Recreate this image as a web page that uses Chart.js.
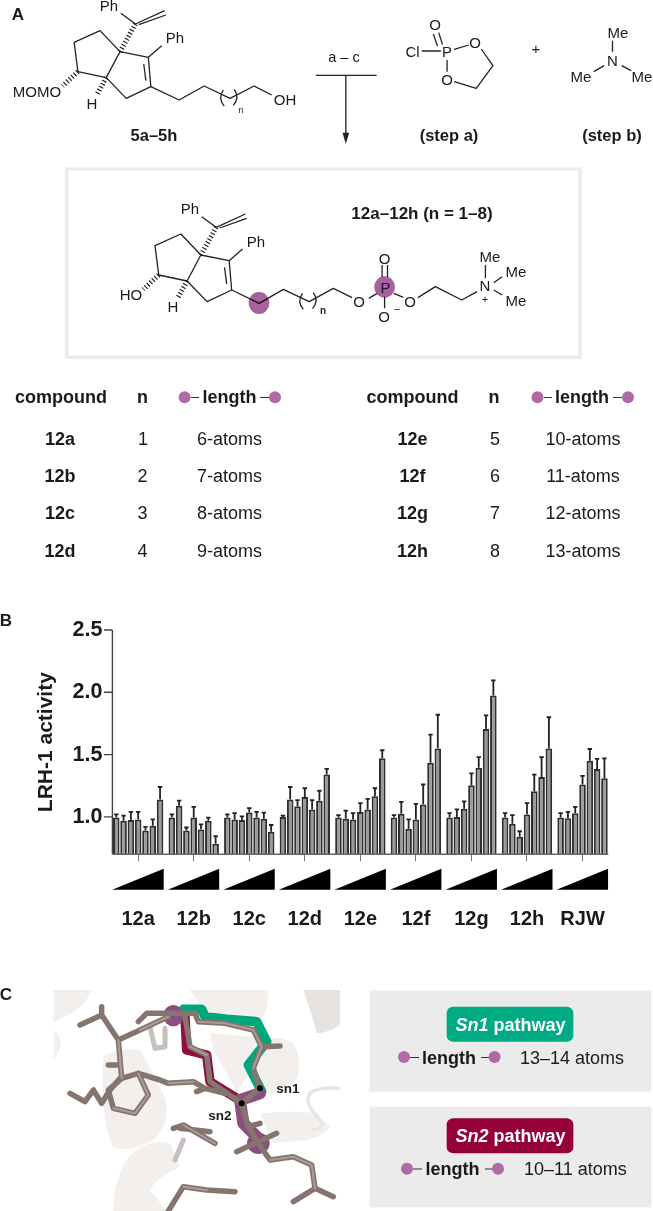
<!DOCTYPE html>
<html>
<head>
<meta charset="utf-8">
<title>LRH-1 activity</title>
<script src="https://cdn.jsdelivr.net/npm/chart.js@4.4.3/dist/chart.umd.js"></script>
<style>
  html, body { margin: 0; padding: 0; background: #fff; }
  #page { position: relative; width: 653px; height: 1211px; overflow: hidden; font-family: "Liberation Sans", Arial, sans-serif; }
  #art { position: absolute; left: 0; top: 0; }
  #chart { position: absolute; left: 0; top: 600px; }
  svg text { font-family: "Liberation Sans", Arial, sans-serif; fill: #1a1a1a; text-anchor: middle; }
  .b { font-weight: bold; }
  .bond, .hash, .stick, .rule { vector-effect: non-scaling-stroke; fill: none; }
  .bond { stroke: #222; stroke-width: 1.3; stroke-linejoin: round; }
  .hash { stroke: #222; stroke-width: 5; stroke-dasharray: 1.2 2.2; }
  .rule { stroke: #333; stroke-width: 1.2; }
  .at { font-size: 15px; }
  .tb { font-size: 18px; }
  .stick { stroke-linejoin: round; stroke-linecap: round; }
  .dk { stroke: #86746e; stroke-width: 5.5; }
  .hi { stroke: #ab9c97; stroke-width: 2; }
</style>
</head>
<body>
<div id="page">
<svg id="art" width="653" height="1211" viewBox="0 0 653 1211">
  <defs>
    <g id="core">
      <path class="bond" d="M240 92L178 127L187 215L255 233L288 155Z"/>
      <path class="bond" d="M288 155L356 172L362 260L303 295L255 233"/>
      <path class="bond" d="M345 192L350 242"/>
      <path class="bond" d="M356 172L388 137"/>
      <path class="hash" d="M288 155L325 72"/>
      <path class="bond" d="M290 40L325 72L395 32M333 74L398 45"/>
      <path class="hash" d="M187 215L150 258"/>
      <path class="hash" d="M255 233L232 285"/>
    </g>
  </defs>

  <!-- structure lines, traced in crop units -->
  <g transform="scale(0.41667 0.33333)">
    <use href="#core"/>
    <path class="bond" d="M362 260L430 300L490 258L552 295L610 258L652 285"/>
    <path class="bond" d="M536 270Q522 295 538 318M562 268Q576 293 560 316"/>
    <path class="bond" d="M758 226H904M830 226V405"/>
    <path d="M822 398H838L830 432Z" fill="#222"/>
    <path class="bond" d="M1040 102L1050 138M1053 98L1062 134"/>
    <path class="bond" d="M1012 153H1058M1090 148L1125 135M1155 147L1183 197L1143 265L1090 245M1073 180V215"/>
    <path class="bond" d="M1470 122V155M1450 197L1425 215M1492 197L1515 212"/>

    <rect class="rule" x="160" y="507" width="1232" height="565" style="stroke:#ebebeb;stroke-width:3.5"/>
    <use href="#core" transform="translate(194 610)"/>
    <path class="bond" d="M556 870L622 910L680 868L742 905L800 865L845 893"/>
    <path class="bond" d="M726 880Q712 905 728 928M752 878Q766 903 750 926"/>
    <path class="bond" d="M885 895L905 880M917 795V832M930 795V832M923 890V925M945 880L968 892"/>
    <path class="bond" d="M1003 893L1045 860L1108 900L1145 875M1165 795V835M1185 848L1205 830M1185 870L1205 885"/>
  </g>
  <ellipse cx="259" cy="303" rx="10.4" ry="11" fill="#a8619d" style="mix-blend-mode:multiply"/>
  <ellipse cx="384.6" cy="287" rx="10.4" ry="10.7" fill="#a8619d" style="mix-blend-mode:multiply"/>

  <text class="b" x="18" y="20" font-size="17">A</text>
  <text class="at" x="109" y="11">Ph</text>
  <text class="at" x="175" y="43">Ph</text>
  <text class="at" x="37" y="97">MOMO</text>
  <text class="at" x="92" y="109">H</text>
  <text x="241" y="113" font-size="9">n</text>
  <text class="at" x="285" y="105">OH</text>
  <text class="b" x="154" y="141" font-size="16.5">5a–5h</text>
  <text x="344" y="62" font-size="14.5">a – c</text>
  <text class="at" x="435" y="30">O</text>
  <text class="at" x="412.5" y="57">Cl</text>
  <text class="at" x="447" y="57">P</text>
  <text class="at" x="475" y="48">O</text>
  <text class="at" x="447" y="85">O</text>
  <text class="at" x="536" y="54">+</text>
  <text class="at" x="618" y="38">Me</text>
  <text class="at" x="612.5" y="66">N</text>
  <text class="at" x="581" y="82">Me</text>
  <text class="at" x="642" y="82">Me</text>
  <text class="b" x="449" y="141" font-size="16.5">(step a)</text>
  <text class="b" x="612" y="141" font-size="16.5">(step b)</text>

  <text class="b" x="422" y="219" font-size="17">12a–12h (n = 1–8)</text>
  <text class="at" x="190" y="214">Ph</text>
  <text class="at" x="256" y="247">Ph</text>
  <text class="at" x="131" y="300">HO</text>
  <text class="at" x="173" y="312">H</text>
  <text class="b" x="323" y="314" font-size="10">n</text>
  <text class="at" x="359" y="307">O</text>
  <text class="at" x="385.4" y="293">P</text>
  <text class="at" x="384.6" y="264">O</text>
  <text class="at" x="384" y="322">O</text>
  <text x="397" y="313" font-size="11">−</text>
  <text class="at" x="410" y="307">O</text>
  <text class="at" x="485" y="291">N</text>
  <text x="485" y="303" font-size="11">+</text>
  <text class="at" x="490" y="262">Me</text>
  <text class="at" x="516" y="277">Me</text>
  <text class="at" x="516" y="306">Me</text>

  <!-- compound table -->
  <g class="tb">
    <text class="b" x="61" y="403">compound</text>
    <text class="b" x="142.5" y="403">n</text>
    <circle cx="184.6" cy="397.3" r="6" fill="#b06aa4"/>
    <path class="rule" d="M191 397.5H199M260 397.5H269"/>
    <text class="b" x="229.6" y="403">length</text>
    <circle cx="275" cy="397.3" r="6" fill="#b06aa4"/>
    <text class="b" x="412.5" y="403">compound</text>
    <text class="b" x="494" y="403">n</text>
    <circle cx="537.5" cy="397.3" r="6" fill="#b06aa4"/>
    <path class="rule" d="M544 397.5H552M613 397.5H622"/>
    <text class="b" x="582" y="403">length</text>
    <circle cx="628" cy="397.3" r="6" fill="#b06aa4"/>

    <text class="b" x="60" y="445">12a</text><text x="143" y="445">1</text><text x="229.6" y="445">6-atoms</text>
    <text class="b" x="60" y="482">12b</text><text x="142.5" y="482">2</text><text x="229.6" y="482">7-atoms</text>
    <text class="b" x="60" y="519">12c</text><text x="142.5" y="519">3</text><text x="229.6" y="519">8-atoms</text>
    <text class="b" x="60" y="557">12d</text><text x="142.5" y="557">4</text><text x="229.6" y="557">9-atoms</text>
    <text class="b" x="412.5" y="445">12e</text><text x="495" y="445">5</text><text x="583" y="445">10-atoms</text>
    <text class="b" x="412.5" y="482">12f</text><text x="495" y="482">6</text><text x="583" y="482">11-atoms</text>
    <text class="b" x="412.5" y="519">12g</text><text x="495" y="519">7</text><text x="583" y="519">12-atoms</text>
    <text class="b" x="412.5" y="557">12h</text><text x="495" y="557">8</text><text x="583" y="557">13-atoms</text>
  </g>

  <text class="b" x="6" y="626" font-size="17">B</text>
  <text class="b" x="6" y="1000" font-size="17">C</text>

  <!-- panel C ribbon and sticks, 3x crop units from (40,980) -->
  <g transform="translate(40 980) scale(0.33333)">
    <clipPath id="pic"><rect x="40" y="30" width="860" height="663"/></clipPath>
    <g clip-path="url(#pic)">
      <g fill="#f2efed">
        <path d="M40 30H155Q130 90 70 110L40 130Z"/>
        <path d="M40 150Q70 170 60 210L40 240Z"/>
        <path d="M450 30H680Q695 80 660 118L510 130Q480 70 450 30Z"/>
        <path d="M510 160L640 170Q740 170 760 190Q790 240 770 300L690 345L640 280L620 290L590 340L560 280L520 210Z"/>
        <path d="M190 230Q230 200 300 210L370 340Q400 420 340 480Q260 520 220 500Q180 430 190 230Z"/>
        <path d="M220 693Q220 560 300 500Q360 480 390 490L420 560Q350 590 330 630L380 693Z"/>
        <path d="M660 400Q760 390 830 400L870 440Q850 470 800 480L700 490Z"/>
      </g>
      <path d="M790 30H900V135Q860 160 830 160Q815 100 790 30Z" fill="#e6e2e0"/>
      <path class="stick" d="M900 325Q830 320 810 340Q790 370 840 420Q860 440 820 450" style="stroke:#e8e5e3;stroke-width:3.5"/>
      <path class="stick" d="M430 88H485L495 110L560 118L650 125L680 185L625 255L665 335" style="stroke:#00a77d;stroke-width:9.5"/>
      <path class="stick" d="M435 110L440 210L500 225L510 305L590 355" style="stroke:#8f0f3f;stroke-width:9.5"/>
      <path class="stick" d="M660 340L600 360L610 430L650 470" style="stroke:#8a4f80;stroke-width:12"/>
      <ellipse cx="400" cy="107" rx="30" ry="32" fill="#8a4f80"/>
      <ellipse cx="655" cy="490" rx="34" ry="32" fill="#8a4f80"/>
      <path class="stick" d="M430 480L405 540M330 140L345 205L375 200L375 145" style="stroke:#c9c0bc;stroke-width:5"/>
      <path class="stick dk" d="M660 325L605 370M660 325L640 265L665 200L720 198M665 200L640 150L555 130L475 125L465 100H320L295 125"/>
      <path class="stick dk" d="M605 370L555 335L510 305L500 225L450 200L435 110"/>
      <path class="stick dk" d="M605 370L625 440L655 490L690 540L760 530L815 555L825 625L880 650M825 625L760 665M590 515L710 460M625 440L660 430"/>
      <path class="stick dk" d="M470 335L495 325L555 340M495 325L460 305L385 310L360 300L295 280L325 345L285 400L220 385L205 330L245 295L295 280"/>
      <path class="stick dk" d="M245 295L235 180L185 105L120 135M185 105V80M235 180L300 150L385 110M205 255H240M240 295L210 330L185 370L160 330L135 365L90 340"/>
      <path class="stick dk" d="M400 445L430 435L525 490M420 445L510 455M385 693L430 620L500 630L585 635"/>
      <path class="stick hi" d="M640 265L665 200L640 150L555 130L475 125M500 225L450 200M690 540L760 530L815 555L825 625M460 305L385 310M295 280L325 345L285 400L220 385M245 295L235 180M300 150L385 110M430 435L525 490M430 620L500 630"/>
      <ellipse cx="660" cy="325" rx="9" ry="9" fill="#000"/>
      <ellipse cx="605" cy="370" rx="9" ry="9" fill="#000"/>
    </g>
  </g>

  <g transform="translate(0 950) scale(0.41667 0.33333)">
    <rect x="887" y="122" width="676" height="303" fill="#ebebeb"/>
    <rect x="887" y="470" width="676" height="302" fill="#ebebeb"/>
    <rect x="1072" y="170" width="304" height="105" rx="16" ry="18" fill="#00ab84"/>
    <rect x="1072" y="505" width="304" height="105" rx="16" ry="18" fill="#960039"/>
  </g>
  <text class="b" x="288" y="1093" font-size="13.5">sn1</text>
  <text class="b" x="220" y="1120" font-size="13.5">sn2</text>
  <text class="b" x="510.4" y="1031" font-size="18" style="fill:#fff"><tspan font-style="italic">Sn1</tspan> pathway</text>
  <text class="b" x="510.4" y="1142" font-size="18" style="fill:#fff"><tspan font-style="italic">Sn2</tspan> pathway</text>
  <circle cx="404" cy="1057" r="6" fill="#b06aa4"/>
  <path class="rule" d="M410 1057.5H419M481 1057.5H490"/>
  <circle cx="494.6" cy="1057" r="6" fill="#b06aa4"/>
  <text class="b" x="449" y="1064" font-size="18">length</text>
  <text x="572" y="1064" font-size="18">13–14 atoms</text>
  <circle cx="407" cy="1168.7" r="6" fill="#b06aa4"/>
  <path class="rule" d="M413 1169H422M485 1169H493"/>
  <circle cx="498" cy="1168.7" r="6" fill="#b06aa4"/>
  <text class="b" x="452.5" y="1175" font-size="18">length</text>
  <text x="575.4" y="1175" font-size="18">10–11 atoms</text>
</svg>
<canvas id="chart" width="653" height="335"></canvas>
</div>

<script>
const compounds = ["12a", "12b", "12c", "12d", "12e", "12f", "12g", "12h", "RJW"];
const yTickValues = [1.0, 1.5, 2.0, 2.5];

// bar heights, one array per compound, low dose to high dose
const activity12a = [0.995, 0.97, 0.975, 0.98, 0.89, 0.93, 1.14];
const activity12b = [0.995, 1.09, 0.89, 0.995, 0.90, 0.97, 0.785];
const activity12c = [0.995, 0.98, 0.975, 1.035, 0.995, 0.985, 0.88];
const activity12d = [1.0, 1.14, 1.085, 1.16, 1.06, 1.13, 1.34];
const activity12e = [0.995, 0.985, 0.98, 1.04, 1.06, 1.165, 1.47];
const activity12f = [0.995, 1.025, 0.905, 0.98, 1.10, 1.435, 1.55];
const activity12g = [0.995, 1.0, 1.065, 1.255, 1.395, 1.705, 1.975];
const activity12h = [0.995, 0.945, 0.84, 1.02, 1.205, 1.32, 1.55];
const activityRJW = [0.995, 0.99, 1.03, 1.26, 1.45, 1.385, 1.31];

// top of each error bar
const upper12a = [1.02, 1.01, 1.04, 1.04, 0.92, 0.98, 1.24];
const upper12b = [1.02, 1.13, 0.915, 1.08, 0.94, 0.995, 0.845];
const upper12c = [1.02, 1.03, 1.005, 1.07, 1.04, 1.035, 0.935];
const upper12d = [1.01, 1.24, 1.135, 1.23, 1.135, 1.21, 1.385];
const upper12e = [1.015, 1.05, 1.03, 1.11, 1.145, 1.23, 1.535];
const upper12f = [1.015, 1.12, 0.98, 1.105, 1.26, 1.66, 1.82];
const upper12g = [1.03, 1.06, 1.125, 1.35, 1.48, 1.815, 2.095];
const upper12h = [1.03, 1.015, 0.885, 1.11, 1.34, 1.48, 1.80];
const upperRJW = [1.03, 1.04, 1.08, 1.33, 1.545, 1.465, 1.47];

const activity = [activity12a, activity12b, activity12c, activity12d, activity12e, activity12f, activity12g, activity12h, activityRJW];
const upper = [upper12a, upper12b, upper12c, upper12d, upper12e, upper12f, upper12g, upper12h, upperRJW];

// one dataset per dose step so the bars group under each compound
const datasets = activity12a.map((_, dose) => ({
  label: "dose " + (dose + 1),
  data: activity.map((row) => row[dose]),
  upper: upper.map((row) => row[dose]),
  backgroundColor: "#999",
  borderColor: "#2e2e2e",
  borderWidth: 2,
  borderSkipped: false,
}));

const FONT = '"Liberation Sans", Arial, sans-serif';

// error bars, axis lines and the dose wedges
const extras = {
  id: "extras",
  afterDatasetsDraw(chart) {
    const { ctx, chartArea, scales } = chart;
    const x0 = chartArea.left + 2;
    ctx.save();

    ctx.strokeStyle = "#222";
    ctx.lineWidth = 1.8;
    chart.data.datasets.forEach((ds, i) => {
      chart.getDatasetMeta(i).data.forEach((bar, j) => {
        const top = scales.y.getPixelForValue(ds.upper[j]);
        ctx.beginPath();
        ctx.moveTo(bar.x, bar.y);
        ctx.lineTo(bar.x, top);
        ctx.moveTo(bar.x - 2.2, top);
        ctx.lineTo(bar.x + 2.2, top);
        ctx.stroke();
      });
    });

    ctx.strokeStyle = "#444";
    ctx.lineWidth = 1.4;
    ctx.beginPath();
    ctx.moveTo(x0, chartArea.top);
    ctx.lineTo(x0, chartArea.bottom);
    yTickValues.forEach((v) => {
      const y = scales.y.getPixelForValue(v);
      ctx.moveTo(x0 - 8.5, y);
      ctx.lineTo(x0, y);
    });
    ctx.stroke();
    ctx.strokeStyle = "#666";
    ctx.beginPath();
    ctx.moveTo(x0, chartArea.bottom);
    ctx.lineTo(chartArea.right - 2, chartArea.bottom);
    ctx.stroke();

    ctx.fillStyle = "#000";
    compounds.forEach((_, i) => {
      const c = scales.x.getPixelForTick(i);
      ctx.beginPath();
      ctx.moveTo(c - 26, chartArea.bottom + 35.5);
      ctx.lineTo(c + 25.5, chartArea.bottom + 35.5);
      ctx.lineTo(c + 25.5, chartArea.bottom + 14.5);
      ctx.closePath();
      ctx.fill();
    });
    ctx.restore();
  },
};

new Chart(document.getElementById("chart"), {
  type: "bar",
  data: { labels: compounds, datasets },
  plugins: [extras],
  options: {
    responsive: false,
    animation: false,
    layout: { padding: { top: 30, right: 40.4, bottom: 0.7, left: 0 } },
    categoryPercentage: 0.92,
    barPercentage: 0.9,
    plugins: { legend: { display: false }, tooltip: { enabled: false } },
    scales: {
      x: {
        afterFit: (s) => { s.height = 80; },
        border: { display: false },
        grid: { offset: false, drawOnChartArea: false, color: "#777", tickLength: 7, lineWidth: 1 },
        ticks: { color: "#1a1a1a", font: { family: FONT, size: 20, weight: "bold" }, padding: 46, maxRotation: 0, autoSkip: false },
      },
      y: {
        min: 0.7,
        max: 2.5,
        afterFit: (s) => { s.width = 110.4; },
        afterBuildTicks: (s) => { s.ticks = yTickValues.map((value) => ({ value })); },
        border: { display: false },
        grid: { display: false },
        title: { display: true, text: "LRH-1 activity", color: "#1a1a1a", font: { family: FONT, size: 21, weight: "bold" }, padding: { top: 34, bottom: 0 } },
        ticks: { color: "#1a1a1a", font: { family: FONT, size: 21.5, weight: "bold" }, padding: 0, callback: (v) => Number(v).toFixed(1) },
      },
    },
  },
});
</script>
</body>
</html>
